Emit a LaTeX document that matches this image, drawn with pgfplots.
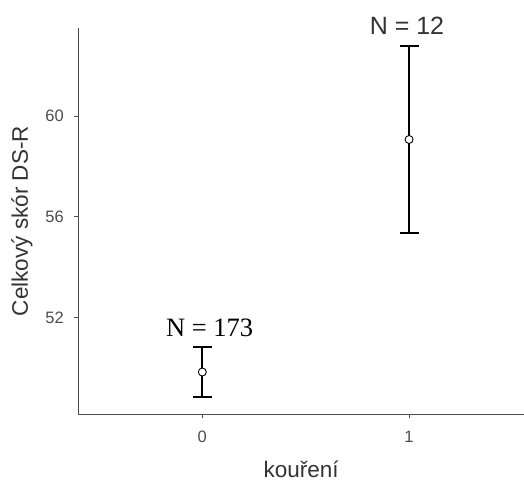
\documentclass[border=0pt]{standalone}
\usepackage{fontspec}
\setmainfont{Liberation Sans}
\newfontfamily\serifN{Liberation Serif}
\usepackage{pgfplots}
\pgfplotsset{compat=1.18}
\definecolor{axgray}{HTML}{4D4D4D}
\definecolor{ttl}{HTML}{333333}
\begin{document}
\begin{tikzpicture}[x=1pt,y=1pt]
\path[use as bounding box] (-78.3,-67.7) rectangle (445.7,414.3);
\begin{axis}[
  at={(0,0)}, anchor=south west,
  scale only axis, width=445.7pt, height=386.3pt,
  xmin=-0.60, xmax=1.556, ymin=48.15, ymax=63.50,
  axis x line*=bottom, axis y line*=left,
  axis line style={axgray, line width=1pt, -},
  xtick={0,1}, ytick={52,56,60},
  tick style={axgray, line width=1pt},
  tick align=outside, major tick length=4pt,
  ticklabel style={font=\fontsize{16.5}{18}\selectfont, text=axgray},
  yticklabel style={xshift=-7pt},
  xticklabel style={yshift=-9pt},
  /pgf/number format/assume math mode=true,
  xlabel={kouření}, ylabel={Celkový skór DS-R},
  label style={font=\fontsize{22.5}{25}\selectfont, text=ttl},
  xlabel style={at={(axis description cs:0.5,-0.1418)}, anchor=center},
  ylabel style={at={(axis description cs:-0.1263,0.5)}, anchor=center},
  clip=false,
]
\addplot[black, line width=2pt, only marks, mark=*, mark size=4pt,
  mark options={fill=white, draw=black, line width=0.9pt},
  error bars/.cd, y dir=both, y explicit,
  error bar style={black, line width=2pt},
  error mark options={rotate=90, mark size=9.5pt, line width=2pt, black}]
  table[x=x, y=y, y error=e] {
x y e
0 49.83 0.98
1 59.07 3.72
};
\node[font=\serifN\fontsize{26.5}{28}\selectfont, text=black, anchor=base] at (axis cs:0.035,51.25) {N = 173};
\node[font=\fontsize{25}{27}\selectfont, text=ttl, anchor=base] at (axis cs:0.99,63.23) {N = 12};
\end{axis}
\end{tikzpicture}
\end{document}
